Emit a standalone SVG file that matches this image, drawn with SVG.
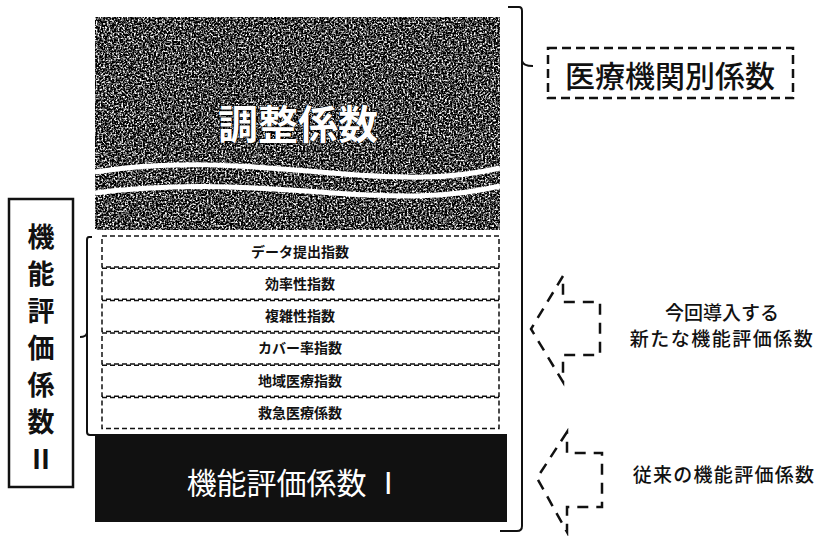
<svg xmlns="http://www.w3.org/2000/svg" width="818" height="536" viewBox="0 0 818 536">
<style>
.jp{font-family:"Noto Sans CJK JP","Noto Sans CJK SC",sans-serif;}
.row rect{fill:#fff;stroke:#111;stroke-width:1.5;stroke-dasharray:5 3;}
.row text{font-size:14px;font-weight:bold;fill:#111;text-anchor:middle;}
.arrow{fill:none;stroke:#111;stroke-width:2.5;stroke-dasharray:11 8;}
.lbl{font-size:19px;fill:#111;text-anchor:middle;font-weight:500;}
.br{fill:none;stroke:#111;stroke-width:2;}
</style>
<defs>
<filter id="grain" x="0" y="0" width="100%" height="100%" color-interpolation-filters="sRGB">
<feTurbulence type="fractalNoise" baseFrequency="0.55" numOctaves="2" seed="4" result="n"/>
<feColorMatrix in="n" type="matrix" values="3.2 0 0 0 -1.35  3.2 0 0 0 -1.35  3.2 0 0 0 -1.35  0 0 0 0 1" result="g"/>
<feComposite in="g" in2="SourceGraphic" operator="in"/>
</filter>
</defs>
<rect width="818" height="536" fill="#fff"/>

<g id="adjust">
<rect x="95" y="17" width="405" height="213" fill="#333" filter="url(#grain)"/>
<path d="M95,172 C170,160 240,165 320,172 S450,180 500,168" fill="none" stroke="#fff" stroke-width="5"/>
<path d="M95,193 C170,183 240,186 320,192 S450,198 500,186" fill="none" stroke="#fff" stroke-width="5"/>
<text class="jp" x="298" y="122" font-size="40" font-weight="bold" fill="#fff" stroke="#000" stroke-width="1.2" paint-order="stroke" text-anchor="middle" dominant-baseline="central">調整係数</text>
</g>

<g id="row1" class="row jp"><rect x="102" y="236" width="397" height="31"/><text x="300" y="256.5">データ提出指数</text></g>
<g id="row2" class="row jp"><rect x="102" y="268.3" width="397" height="31"/><text x="300" y="288.8">効率性指数</text></g>
<g id="row3" class="row jp"><rect x="102" y="300.6" width="397" height="31"/><text x="300" y="321.1">複雑性指数</text></g>
<g id="row4" class="row jp"><rect x="102" y="332.9" width="397" height="31"/><text x="300" y="353.4">カバー率指数</text></g>
<g id="row5" class="row jp"><rect x="102" y="365.2" width="397" height="31"/><text x="300" y="385.7">地域医療指数</text></g>
<g id="row6" class="row jp"><rect x="102" y="397.5" width="397" height="31"/><text x="300" y="418">救急医療係数</text></g>

<g id="func1">
<rect x="95" y="434" width="412" height="88" fill="#111"/>
<text class="jp" x="295" y="481" font-size="30" fill="#fff" text-anchor="middle" dominant-baseline="central">機能評価係数 Ⅰ</text>
</g>

<g id="func2">
<rect x="9" y="199" width="64" height="288" fill="#fff" stroke="#111" stroke-width="2.5"/>
<g class="jp" font-size="27" font-weight="bold" fill="#111" text-anchor="middle" dominant-baseline="central">
<text x="41" y="235">機</text>
<text x="41" y="272">能</text>
<text x="41" y="309">評</text>
<text x="41" y="346">価</text>
<text x="41" y="383">係</text>
<text x="41" y="420">数</text>
<text x="41" y="457">Ⅱ</text>
</g>
</g>

<g id="hospital">
<rect x="548" y="48" width="245" height="50" fill="none" stroke="#111" stroke-width="2.5" stroke-dasharray="9 5"/>
<text class="jp" x="670" y="74" font-size="30" font-weight="500" fill="#111" text-anchor="middle" dominant-baseline="central">医療機関別係数</text>
</g>

<g id="new-label"><text class="jp lbl" x="722" y="311" dominant-baseline="central">今回導入する</text><text class="jp lbl" x="722" y="337" dominant-baseline="central" letter-spacing="1.5">新たな機能評価係数</text></g>
<g id="old-label"><text class="jp lbl" x="724" y="473" dominant-baseline="central" letter-spacing="1.3">従来の機能評価係数</text></g>

<g id="connectors">
<path class="br" d="M508,7 L519,7 Q522,7 522,11 L522,526 Q522,531 517,531 L500,531"/>
<path class="br" d="M522,61 Q523,66 533,66"/>
<path class="br" d="M92,237 L89,237 Q87,237 87,240 L87,432 Q87,435 90,435 L95,435"/>
<path class="br" d="M87,333 Q86,337 80,337"/>
<path class="arrow" d="M563,276 L531,329 L563,382 L563,355 L600,355 L600,302 L563,302 Z"/>
<path class="arrow" d="M567,432 L537,478 L567,532 L567,507 L602,507 L602,453 L567,453 Z"/>
</g>
</svg>
